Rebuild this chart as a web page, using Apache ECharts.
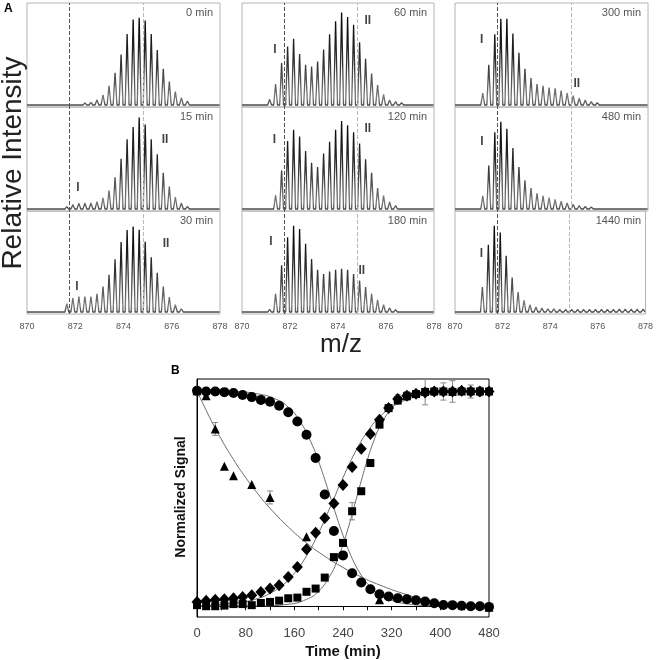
<!DOCTYPE html>
<html><head><meta charset="utf-8">
<script src="https://cdn.jsdelivr.net/npm/echarts@6/dist/echarts.min.js"></script>
<style>html,body{margin:0;padding:0;background:#fff}#c{width:656px;height:660px}</style>
</head><body><div id="c"></div>
<script>
// ---------- Panel A data ----------
const mzPeaks = [871.15,871.40,871.65,871.90,872.15,872.40,872.65,872.90,873.15,873.40,873.65,873.90,874.15,874.40,874.65,874.90,875.15,875.40,875.65,875.90,876.15,876.40,876.65,876.90,877.15,877.40,877.65,877.90];
const mzTicks = [870,872,874,876,878];
const refLines = [871.77, 874.8];
const panelTimes = ['0 min','15 min','30 min','60 min','120 min','180 min','300 min','480 min','1440 min'];
const spec0    = [0.5,1,1.5,2,2,2.5,3,6,11.5,22,37,58,81.5,98,100,97,81.5,63,41.5,27,15.5,8.5,4.5,2,1.5,1,1,1];
const spec15   = [0.5,1,2.7,5,6.5,7,7,8.5,12.7,21,36.5,57.7,80,94,105,97,80,62.7,41.5,25.8,13.5,7,3,1.2,1,1,1,1];
const spec30   = [1,2,9.6,16,18,18,18,21,29.6,43,61,81,95,99,95.4,81.5,63.5,45.4,29.6,17.3,8.5,3.8,2,1.5,1,1,1,1];
const spec60   = [6.5,24,48,67,76,58.5,46,44,50,63.5,81,96,106,101,92,72,53,36,23,12.3,5.8,3.8,2.7,2,2,2,2,2];
const spec120  = [1.2,15.8,44,78,91,83,66.5,53,48,63.5,77,91,101,96,88,75,57,41.5,24,15.4,8.5,3.8,2,1.5,1.5,1.5,1.5,1.5];
const spec180  = [3,21,54,86.5,100,96,79,61.5,49,44,47,49,50,49,44,36.5,29,21,14,8.5,5,2.7,2,2,2,2,2,2];
const spec300  = [13.5,46,81,99,99,82,60,41.5,31,24,22,20,19,16.5,13.5,10.8,7.7,5.8,3.8,2.7,2,2,2,2,2,2,2,2];
const spec480  = [15,50,88,100,92,70,48,33,24,18,15,13,11,9,7,5.5,4,3,2.5,2,2,2,2,2,2,2,2,2];
const spec1440 = [29,78,100,92,65,40,23,13.5,8.5,5.8,4.6,3.8,3.8,3,3,3,3,3,3,3,3,3,3,3.5,3.5,3.5,3.5,3.5];
const spectra = [spec0,spec15,spec30,spec60,spec120,spec180,spec300,spec480,spec1440];
// [panel, text, m/z, level]
const peakLabels = [[1,'I',872.11,24],[1,'II',875.72,80],[2,'I',872.07,29],[2,'II',875.76,79],
  [3,'I',871.37,63],[3,'II',875.24,97],[4,'I',871.35,79],[4,'II',875.24,92],[5,'I',871.21,81],[5,'II',874.99,48],
  [6,'I',871.11,75],[6,'II',875.05,25],[7,'I',871.12,77],[8,'I',871.11,67]];

// ---------- Panel B data ----------
const times = [0,15,30,45,60,75,90,105,120,135,150,165,180,195,210,225,240,255,270,285,300,315,330,345,360,375,390,405,420,435,450,465,480];
const circleV  = [1.0,0.997,0.997,0.994,0.99,0.981,0.971,0.958,0.949,0.931,0.901,0.858,0.796,0.688,0.519,0.349,0.236,0.153,0.11,0.079,0.056,0.045,0.037,0.032,0.028,0.022,0.014,0.006,0.005,0.002,0.0,0.0,-0.003];
const diamondV = [0.02,0.025,0.03,0.032,0.037,0.043,0.051,0.066,0.082,0.097,0.136,0.182,0.264,0.341,0.41,0.477,0.563,0.647,0.731,0.8,0.866,0.92,0.962,0.977,0.986,0.992,0.997,0.997,0.997,1.0,0.997,0.997,0.997];
const squareV  = [0.005,0.0,0.0,0.003,0.01,0.01,0.005,0.015,0.02,0.026,0.037,0.04,0.067,0.082,0.133,0.228,0.294,0.441,0.534,0.665,0.843,0.92,0.955,0.975,0.985,0.995,0.997,0.997,0.995,0.997,0.997,0.997,0.997];
const triangleT = [0,15,30,45,60,90,120,180,300,480];
const triangleV = [1.0,0.977,0.823,0.65,0.606,0.565,0.505,0.323,0.03,-0.005];
const fitCircle   = [[0,1.0],[60,0.997],[100,0.986],[130,0.961],[150,0.924],[170,0.856],[190,0.745],[200,0.671],[210,0.588],[220,0.5],[230,0.412],[240,0.329],[250,0.255],[260,0.193],[270,0.144],[280,0.105],[300,0.054],[320,0.027],[350,0.0095],[400,0.0016],[480,0]];
const fitDiamond  = [[0,0.003],[60,0.013],[100,0.036],[120,0.06],[140,0.096],[160,0.153],[180,0.234],[200,0.341],[220,0.467],[240,0.597],[260,0.715],[280,0.81],[300,0.878],[320,0.924],[340,0.954],[360,0.972],[400,0.99],[440,0.996],[480,0.999]];
const fitSquare   = [[0,0],[100,0.001],[150,0.009],[180,0.032],[200,0.07],[220,0.148],[230,0.209],[240,0.286],[250,0.377],[260,0.479],[270,0.582],[280,0.679],[290,0.763],[300,0.83],[320,0.918],[340,0.962],[360,0.983],[400,0.997],[480,1.0]];
const fitTriangle = [[0,1.0],[20,0.881],[40,0.775],[60,0.681],[80,0.597],[100,0.522],[120,0.455],[150,0.368],[180,0.294],[210,0.232],[240,0.18],[270,0.136],[300,0.099],[340,0.058],[380,0.026],[420,0.008],[450,0.0],[480,-0.005]];
// [time, value, error]
const errBars = [[30,0.823,0.03],[120,0.505,0.03],[255,0.441,0.04],[330,0.962,0.02],[345,0.977,0.02],[375,0.995,0.06],[405,0.997,0.04],[420,0.997,0.05],[450,0.997,0.03],[465,0.997,0.02],
  [300,0.056,0.015],[330,0.037,0.01],[360,0.028,0.012],[390,0.014,0.012],[480,-0.003,0.015]];
const timeTicks = [0,80,160,240,320,400,480];

// ---------- build ----------
const FONT = 'Liberation Sans, Arial, sans-serif';
function profile(h){
  const pts=[[870,0]];
  for(let i=0;i<mzPeaks.length;i++){
    const m=mzPeaks[i];
    pts.push([m-0.08,0],[m,h[i]],[m+0.08,0]);
    if(i<mzPeaks.length-1){ pts.push([m+0.125, 0.015*Math.min(h[i],h[i+1])+0.4]); }
  }
  pts.push([878,0]);
  return pts;
}
const colLeft=[27,242,455], colW=[193,192,193], rowTop=[3,107,211], rowH=[104,104,103];
const grids=[], xAxes=[], yAxes=[], series=[], graphics=[];
for(let p=0;p<9;p++){
  const c=Math.floor(p/3), r=p%3;
  grids.push({left:colLeft[c], top:rowTop[r], width:colW[c], height:rowH[r], show:true, borderColor:'#b4b4b4', borderWidth:1});
  xAxes.push({type:'value', gridIndex:p, min:mzTicks[0], max:mzTicks[mzTicks.length-1], interval:2,
    axisLine:{show:false}, axisTick:{show:false}, splitLine:{show:false},
    axisLabel:{show:r===2, fontSize:9, color:'#555', margin:8, fontFamily:FONT}});
  yAxes.push({type:'value', gridIndex:p, min:-2.3, max:117, show:false});
  series.push({type:'line', xAxisIndex:p, yAxisIndex:p, data:profile(spectra[p]), symbol:'none', silent:true, animation:false,
    lineStyle:{width:1.3, color:new echarts.graphic.LinearGradient(0,0,0,1,[{offset:0,color:'#000'},{offset:0.55,color:'#333'},{offset:0.9,color:'#7a7a7a'},{offset:1,color:'#3a3a3a'}])},
    markLine:{symbol:['none','none'], silent:true, animation:false, label:{show:false},
      data:[{xAxis:refLines[0], lineStyle:{color:'#555', type:'dashed', width:1}},{xAxis:refLines[1], lineStyle:{color:'#b8b8b8', type:'dashed', width:1}}]}});
  const labs = peakLabels.filter(l=>l[0]===p).map(l=>({value:[l[2],l[3]], label:{formatter:l[1]}}));
  if(labs.length){
    series.push({type:'scatter', xAxisIndex:p, yAxisIndex:p, data:labs, symbolSize:1, itemStyle:{color:'rgba(0,0,0,0)'}, silent:true, animation:false,
      label:{show:true, position:'inside', fontSize:12, fontWeight:'bold', color:'#111', fontFamily:FONT}});
  }
  graphics.push({type:'text', x:colLeft[c]+colW[c]-7, y:rowTop[r]+10, style:{text:panelTimes[p], fill:'#555', font:'11px '+FONT, align:'right', verticalAlign:'middle'}});
}
// Panel B
const gB = 9;
grids.push({left:197, top:379, width:292, height:238, show:true, borderColor:'#000', borderWidth:1});
xAxes.push({type:'value', gridIndex:gB, min:timeTicks[0], max:timeTicks[timeTicks.length-1], interval:40,
  axisLine:{lineStyle:{color:'#000'}}, axisTick:{show:true, length:4, lineStyle:{color:'#000'}}, splitLine:{show:false},
  axisLabel:{fontSize:13, color:'#444', margin:10, fontFamily:FONT, formatter:v=>timeTicks.includes(v)?String(v):''}});
yAxes.push({type:'value', gridIndex:gB, min:-0.05, max:1.055, axisLine:{show:true, lineStyle:{color:'#000'}}, axisTick:{show:false}, axisLabel:{show:false}, splitLine:{show:false}});
const fitStyle = {type:'line', xAxisIndex:gB, yAxisIndex:gB, symbol:'none', smooth:true, silent:true, animation:false, z:2, lineStyle:{color:'#6a6a6a', width:1}};
[fitCircle, fitDiamond, fitSquare, fitTriangle].forEach(d=>series.push(Object.assign({}, fitStyle, {data:d})));
series.push({type:'custom', xAxisIndex:gB, yAxisIndex:gB, data:errBars, silent:true, animation:false, z:3,
  renderItem:function(params, api){
    const t=api.value(0), v=api.value(1), e=api.value(2);
    const top=api.coord([t,v+e]), bot=api.coord([t,v-e]);
    const st={stroke:'#888', lineWidth:1};
    return {type:'group', children:[
      {type:'line', shape:{x1:top[0],y1:top[1],x2:bot[0],y2:bot[1]}, style:st},
      {type:'line', shape:{x1:top[0]-3,y1:top[1],x2:top[0]+3,y2:top[1]}, style:st},
      {type:'line', shape:{x1:bot[0]-3,y1:bot[1],x2:bot[0]+3,y2:bot[1]}, style:st}]};
  }});
const sc = {type:'scatter', xAxisIndex:gB, yAxisIndex:gB, silent:true, animation:false, z:4, itemStyle:{color:'#000', opacity:1}};
series.push(Object.assign({}, sc, {symbol:'diamond', symbolSize:[11,12], data:times.map((t,i)=>[t,diamondV[i]])}));
series.push(Object.assign({}, sc, {symbol:'rect', symbolSize:8, data:times.map((t,i)=>[t,squareV[i]])}));
series.push(Object.assign({}, sc, {symbol:'triangle', symbolSize:9, data:triangleT.map((t,i)=>[t,triangleV[i]])}));
series.push(Object.assign({}, sc, {symbol:'circle', symbolSize:10, data:times.map((t,i)=>[t,circleV[i]])}));

graphics.push({type:'text', x:4, y:9, style:{text:'A', fill:'#000', font:'bold 12px '+FONT, align:'left', verticalAlign:'middle'}});
graphics.push({type:'text', x:171, y:371, style:{text:'B', fill:'#000', font:'bold 12px '+FONT, align:'left', verticalAlign:'middle'}});
graphics.push({type:'text', x:13, y:163, rotation:Math.PI/2, style:{text:'Relative Intensity', fill:'#222', font:'28px '+FONT, align:'center', verticalAlign:'middle'}});
graphics.push({type:'text', x:341, y:345, style:{text:'m/z', fill:'#222', font:'26px '+FONT, align:'center', verticalAlign:'middle'}});
graphics.push({type:'text', x:181, y:497, rotation:Math.PI/2, style:{text:'Normalized Signal', fill:'#111', font:'bold 14px '+FONT, align:'center', verticalAlign:'middle'}});
graphics.push({type:'text', x:343, y:652, style:{text:'Time (min)', fill:'#111', font:'bold 15px '+FONT, align:'center', verticalAlign:'middle'}});

const chart = echarts.init(document.getElementById('c'), null, {renderer:'canvas', width:656, height:660});
chart.setOption({animation:false, backgroundColor:'#fff', grid:grids, xAxis:xAxes, yAxis:yAxes, series:series, graphic:graphics});
</script></body></html>
